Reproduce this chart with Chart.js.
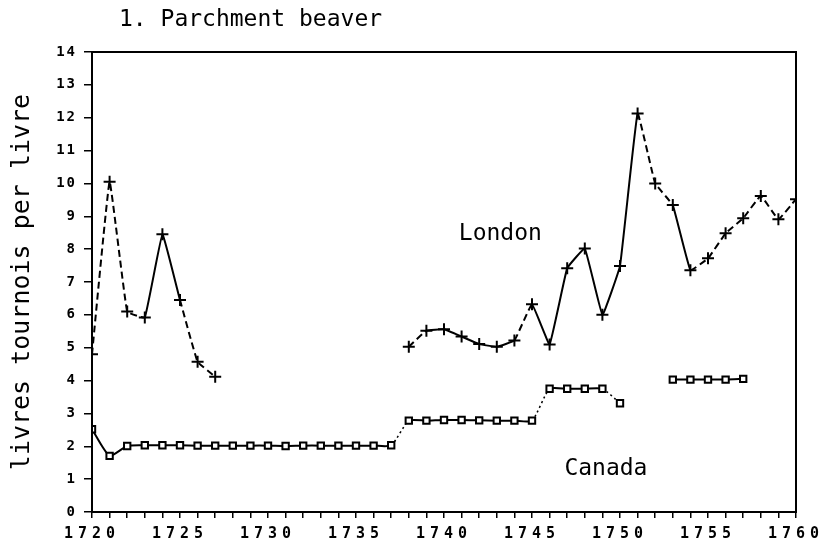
<!DOCTYPE html>
<html>
<head>
<meta charset="utf-8">
<script src="https://cdn.jsdelivr.net/npm/chart.js@4/dist/chart.umd.min.js"></script>
<style>
  html, body { margin: 0; padding: 0; background: #fff; }
  #wrap { width: 824px; height: 545px; }
</style>
</head>
<body>
<div id="wrap"><canvas id="myChart" width="824" height="545"></canvas></div>
<script>
const years = [];
for (let y = 1720; y <= 1760; y++) years.push(y);

// livres tournois per livre
const london = [
  4.8, 10.05, 6.1, 5.92, 8.45, 6.45, 4.57, 4.12,
  null, null, null, null, null, null, null, null, null, null,
  5.03, 5.52, 5.56, 5.34, 5.11, 5.03, 5.22, 6.32, 5.1, 7.42,
  8.02, 6.0, 7.49, 12.13, 10.0, 9.34, 7.36, 7.72, 8.48, 8.94,
  9.62, 8.91, 9.52
];
const canada = [
  2.52, 1.71, 2.01, 2.03, 2.03, 2.03, 2.02, 2.02, 2.02, 2.02,
  2.02, 2.01, 2.02, 2.02, 2.02, 2.02, 2.02, 2.03,
  2.78, 2.78, 2.8, 2.8, 2.79, 2.78, 2.78, 2.78,
  3.75, 3.75, 3.75, 3.75, 3.31,
  null, null,
  4.03, 4.03, 4.03, 4.03, 4.05,
  null, null, null
];
const yTicks = [0, 1, 2, 3, 4, 5, 6, 7, 8, 9, 10, 11, 12, 13, 14];

const toPoints = (vals) => years.map((yr, i) => ({ x: yr, y: vals[i] }));

// segments of the London line that look dashed in the print
const londonDashed = [1720, 1721, 1722, 1725, 1726, 1738, 1744, 1751, 1752, 1754, 1755, 1756, 1757, 1758, 1759];
const canadaDotted = [1737, 1745, 1749];

const mono = "'DejaVu Sans Mono', 'Liberation Mono', monospace";

// draws the frame, title and the series names
const extras = {
  id: "extras",
  afterDraw(chart) {
    const { ctx, chartArea: a, scales } = chart;
    ctx.save();
    ctx.strokeStyle = "#000";
    ctx.lineWidth = 2;
    ctx.strokeRect(a.left, a.top, a.right - a.left, a.bottom - a.top);

    ctx.fillStyle = "#000";
    ctx.textBaseline = "middle";
    ctx.textAlign = "left";
    ctx.font = "23px " + mono;
    ctx.fillText("1. Parchment beaver", 119, 20);

    ctx.font = "23px " + mono;
    ctx.textAlign = "center";
    ctx.fillText("London", scales.x.getPixelForValue(1743.2), scales.y.getPixelForValue(8.45));
    ctx.fillText("Canada", scales.x.getPixelForValue(1749.2), scales.y.getPixelForValue(1.3));
    ctx.restore();
  },
};

// wider spacing of the dot-matrix tick digits
function spaceLabels(scale, spacing) {
  if (scale._spaced) return;
  const orig = scale.drawLabels;
  scale.drawLabels = function (area) {
    this.ctx.save();
    this.ctx.letterSpacing = spacing;
    orig.call(this, area);
    this.ctx.restore();
  };
  scale._spaced = true;
}

const spacing = {
  id: "spacing",
  afterUpdate(chart) {
    spaceLabels(chart.scales.x, "5px");
    spaceLabels(chart.scales.y, "2px");
  },
};

const ctx = document.getElementById("myChart");

new Chart(ctx, {
  type: "line",
  data: {
    datasets: [
      {
        label: "London",
        data: toPoints(london),
        borderColor: "#000",
        borderWidth: 2,
        pointStyle: "cross",
        pointRadius: 6,
        pointBorderWidth: 2,
        pointBorderColor: "#000",
        tension: 0.08,
        spanGaps: false,
        segment: {
          borderDash: (c) => (londonDashed.includes(c.p0.parsed.x) ? [7, 4] : undefined),
        },
      },
      {
        label: "Canada",
        data: toPoints(canada),
        borderColor: "#000",
        borderWidth: 2,
        pointStyle: "rect",
        pointRadius: 4.5,
        pointBorderWidth: 2,
        pointBorderColor: "#000",
        pointBackgroundColor: "#fff",
        tension: 0.2,
        spanGaps: false,
        segment: {
          borderDash: (c) => (canadaDotted.includes(c.p0.parsed.x) ? [2, 3] : undefined),
          borderWidth: (c) => (canadaDotted.includes(c.p0.parsed.x) ? 1.5 : 2),
        },
      },
    ],
  },
  options: {
    responsive: false,
    animation: false,
    layout: { padding: { top: 52, right: 28, left: 0, bottom: 0 } },
    plugins: {
      legend: { display: false },
      tooltip: { enabled: false },
    },
    scales: {
      x: {
        type: "linear",
        min: 1720,
        max: 1760,
        afterFit: (s) => { s.height = 33; },
        afterBuildTicks: (s) => { s.ticks = years.map((v) => ({ value: v })); },
        grid: { drawOnChartArea: false, tickLength: 6, color: "#000", lineWidth: 1.5 },
        border: { color: "#000", width: 2 },
        ticks: {
          autoSkip: false,
          maxRotation: 0,
          padding: 7,
          color: "#000",
          font: { family: mono, size: 15, weight: "bold" },
          callback: (v) => (v % 5 === 0 ? String(v) : ""),
        },
      },
      y: {
        min: 0,
        max: 14,
        afterFit: (s) => { s.width = 92; },
        afterBuildTicks: (s) => { s.ticks = yTicks.map((v) => ({ value: v })); },
        grid: { drawOnChartArea: false, tickLength: 8, color: "#000", lineWidth: 1.5 },
        border: { color: "#000", width: 2 },
        title: {
          display: true,
          text: "livres tournois per livre",
          color: "#000",
          font: { family: mono, size: 25 },
          padding: { top: 7, bottom: 0 },
        },
        ticks: {
          padding: 7,
          color: "#000",
          font: { family: mono, size: 14, weight: "bold" },
        },
      },
    },
  },
  plugins: [spacing, extras],
});
</script>
</body>
</html>
